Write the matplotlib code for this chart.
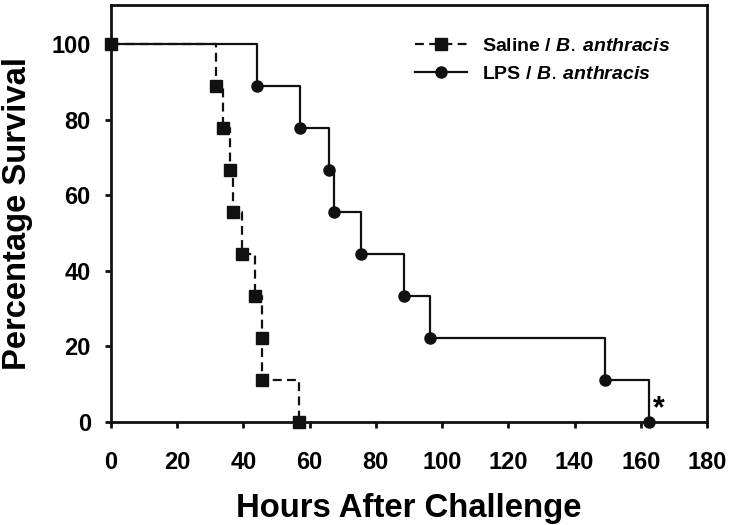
import matplotlib
matplotlib.use("Agg")
import matplotlib.pyplot as plt

# survival data
saline_hours = [0, 31.8, 33.8, 35.8, 37.0, 39.6, 43.4, 45.6, 45.6, 56.8]
saline_surv = [100, 88.9, 77.8, 66.7, 55.6, 44.4, 33.3, 22.2, 11.1, 0]
lps_hours = [0, 44.0, 57.1, 65.8, 67.3, 75.5, 88.4, 96.4, 149.2, 162.6]
lps_surv = [100, 88.9, 77.8, 66.7, 55.6, 44.4, 33.3, 22.2, 11.1, 0]
x_ticks = [0, 20, 40, 60, 80, 100, 120, 140, 160, 180]
y_ticks = [0, 20, 40, 60, 80, 100]

plt.rcParams['font.family'] = ['Liberation Sans', 'DejaVu Sans']
plt.rcParams['mathtext.fontset'] = 'custom'
plt.rcParams['mathtext.bfit'] = 'Liberation Sans:italic:bold'
plt.rcParams['mathtext.it'] = 'Liberation Sans:italic:bold'

fig = plt.figure(figsize=(7.33, 5.25), dpi=100)
ax = fig.add_axes([0.1514, 0.196, 0.8131, 0.7945])

ax.step(saline_hours, saline_surv, where='post', color='#111111', lw=1.6,
        linestyle=(0, (4, 2.4)), marker='s', markersize=8, clip_on=False,
        label=r'Saline / $\mathit{B.\,anthracis}$', zorder=3)
ax.step(lps_hours, lps_surv, where='post', color='#111111', lw=1.6,
        linestyle='-', marker='o', markersize=8, clip_on=False,
        label=r'LPS / $\mathit{B.\,anthracis}$', zorder=3)

ax.text(165.6, 1.2, '*', fontsize=22, fontweight='bold', ha='center', va='baseline')

ax.set_xlim(0, 180)
ax.set_ylim(0, 110.3)
ax.set_xticks(x_ticks)
ax.set_yticks(y_ticks)
for s in ax.spines.values():
    s.set_linewidth(2.0)
    s.set_color('#111111')
ax.tick_params(direction='out', length=4.5, width=2, color='#111111',
               labelsize=17)
ax.tick_params(axis='x', pad=16)
ax.tick_params(axis='y', pad=10)
for lab in ax.get_xticklabels() + ax.get_yticklabels():
    lab.set_fontweight('bold')

ax.set_xlabel('Hours After Challenge', fontsize=23.7, fontweight='bold', labelpad=14)
ax.set_ylabel('Percentage Survival', fontsize=23.6, fontweight='bold', labelpad=13)

leg = ax.legend(loc='upper left', bbox_to_anchor=(0.493, 0.945), frameon=False,
                prop={'weight': 'bold', 'size': 14}, handlelength=2.7,
                handletextpad=0.77, labelspacing=0.5, borderpad=0)

fig.savefig('out.png', dpi=100)
